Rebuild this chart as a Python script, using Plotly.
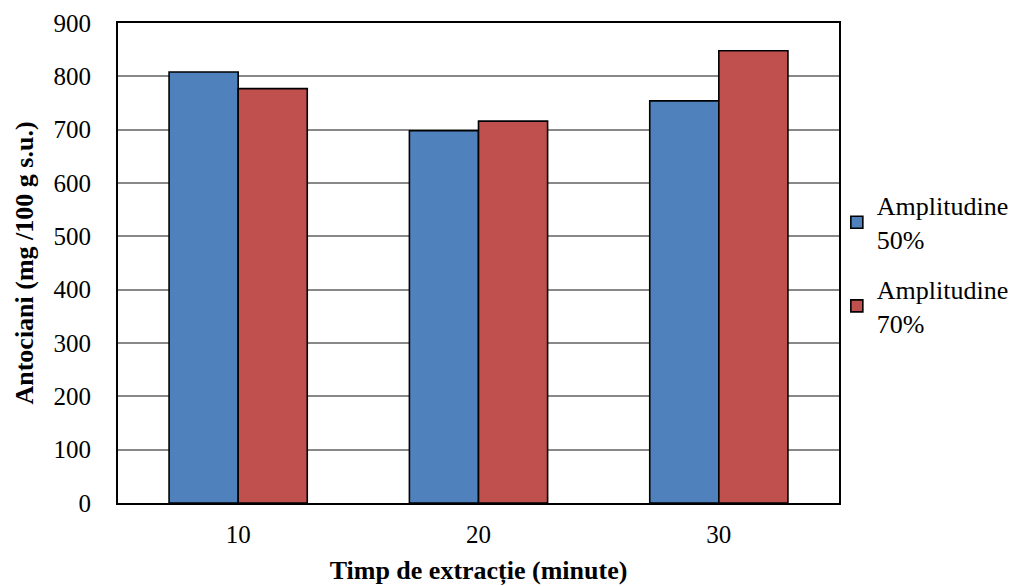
import plotly.graph_objects as go

categories = ["10", "20", "30"]
amp50 = [808, 698, 754]
amp70 = [777, 716, 848]
series_names = ["Amplitudine<br>50%", "Amplitudine<br>70%"]
y_ticks = [0, 100, 200, 300, 400, 500, 600, 700, 800, 900]

font_family = "Liberation Serif"

fig = go.Figure()
fig.add_trace(go.Bar(x=categories, y=amp50, name=series_names[0], legendgroup="a50",
                     marker=dict(color="#4F81BD", line=dict(color="black", width=1.6))))
fig.add_trace(go.Bar(x=categories, y=amp70, name=series_names[1], legendgroup="a70",
                     marker=dict(color="#C0504D", line=dict(color="black", width=1.6))))

fig.update_layout(
    width=1012, height=586,
    margin=dict(l=118, r=173, t=23, b=83, autoexpand=False),
    paper_bgcolor="white", plot_bgcolor="white",
    font=dict(family=font_family, size=25, color="black"),
    barmode="group", bargap=0.425, bargroupgap=0,
    legend=dict(x=0.997, y=0.497, xanchor="left", yanchor="middle",
                font=dict(size=26, family=font_family), tracegroupgap=13, itemwidth=30,
                bgcolor="rgba(0,0,0,0)"),
    xaxis=dict(type="category", showline=True, linecolor="black", linewidth=2,
               mirror=True, ticks="", showgrid=False, ticklabelstandoff=8,
               title=dict(text="<b>Timp de extracție (minute)</b>", standoff=14,
                          font=dict(size=26))),
    yaxis=dict(range=[0, 900], tickvals=y_ticks, showline=True, linecolor="black",
               linewidth=2, mirror=True, ticks="", showgrid=True,
               gridcolor="#888888", gridwidth=1.7, zeroline=False,
               ticklabelstandoff=20,
               title=dict(text="<b>Antociani (mg /100 g s.u.)</b>", standoff=12,
                          font=dict(size=26))),
)

fig.write_html("out.html")
